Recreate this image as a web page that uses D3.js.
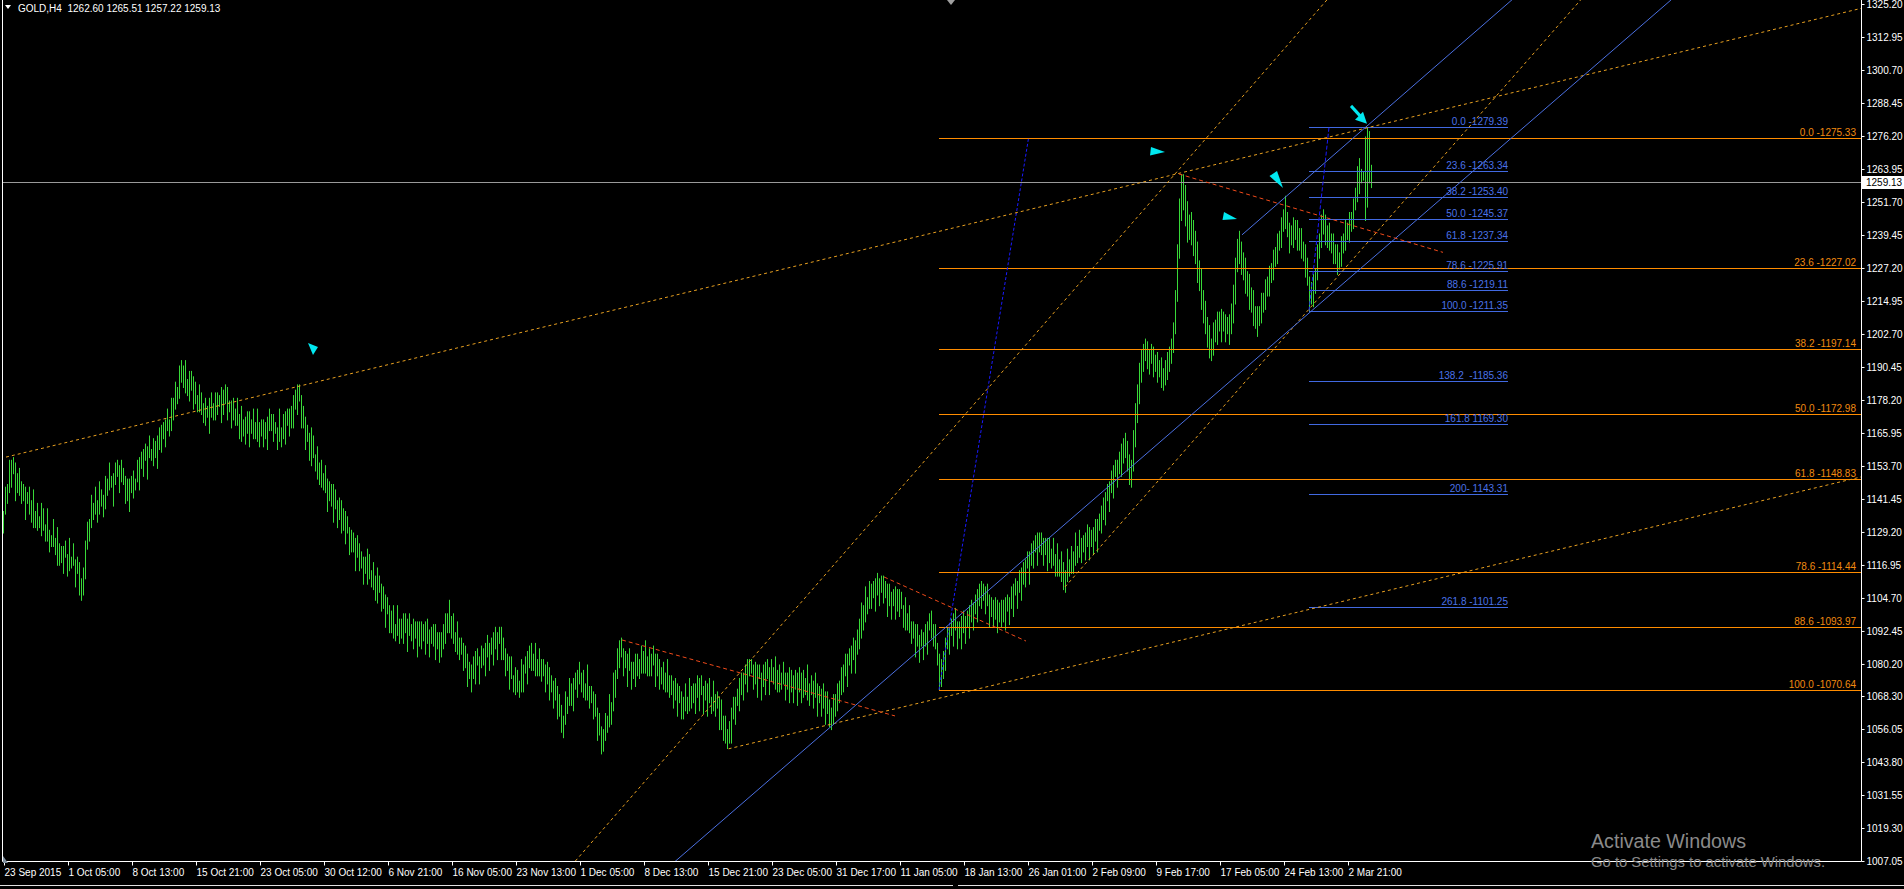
<!DOCTYPE html>
<html><head><meta charset="utf-8">
<script src="https://cdn.jsdelivr.net/npm/d3@7"></script>
<style>
html,body{margin:0;padding:0;background:#000;overflow:hidden}
svg{display:block}
text{font-family:"Liberation Sans",Arial,sans-serif;white-space:pre}
</style></head><body>
<svg id="c" width="1904" height="889"></svg>
<script>
// ---------------- DATA ----------------
const symbol = "GOLD,H4";
const lastOHLC = [1262.60, 1265.51, 1257.22, 1259.13];
const timeLabels = ["23 Sep 2015","1 Oct 05:00","8 Oct 13:00","15 Oct 21:00","23 Oct 05:00","30 Oct 12:00","6 Nov 21:00","16 Nov 05:00","23 Nov 13:00","1 Dec 05:00","8 Dec 13:00","15 Dec 21:00","23 Dec 05:00","31 Dec 17:00","11 Jan 05:00","18 Jan 13:00","26 Jan 01:00","2 Feb 09:00","9 Feb 17:00","17 Feb 05:00","24 Feb 13:00","2 Mar 21:00"];
const timeTickBars = [0,32,64,96,128,160,192,224,256,288,320,352,384,416,448,480,512,544,576,608,640,672];
const priceTicks = [1325.20,1312.95,1300.70,1288.45,1276.20,1263.95,1251.70,1239.45,1227.20,1214.95,1202.70,1190.45,1178.20,1165.95,1153.70,1141.45,1129.20,1116.95,1104.70,1092.45,1080.20,1068.30,1056.05,1043.80,1031.55,1019.30,1007.05];
// H4 bars: lows and highs (one entry per bar)
const barLows = [
1129,1136,1140,1144,1146,1151,1141,1144,1143,1140,
1141,1134,1140,1136,1133,1131,1131,1130,1131,1128,
1130,1126,1126,1122,1124,1124,1121,1117,1117,1118,
1114,1120,1113,1115,1116,1117,1109,1114,1106,1104,
1106,1112,1123,1126,1131,1134,1136,1133,1136,1139,
1135,1138,1143,1145,1146,1139,1147,1150,1144,1148,
1147,1140,1141,1137,1144,1142,1145,1148,1145,1153,
1150,1156,1149,1157,1156,1154,1157,1153,1160,1159,
1164,1161,1167,1165,1167,1171,1175,1177,1179,1185,
1183,1181,1180,1178,1182,1175,1177,1174,1174,1173,
1170,1169,1172,1166,1172,1171,1171,1173,1176,1170,
1173,1177,1171,1174,1168,1171,1169,1169,1164,1163,
1165,1162,1166,1161,1166,1164,1164,1163,1161,1165,
1161,1164,1160,1167,1167,1163,1166,1160,1163,1161,
1164,1162,1169,1165,1168,1168,1175,1173,1178,1168,
1168,1160,1163,1156,1154,1157,1152,1149,1147,1146,
1145,1144,1137,1141,1139,1133,1138,1131,1134,1129,
1130,1125,1129,1121,1122,1122,1115,1120,1115,1116,
1110,1114,1110,1112,1109,1108,1104,1103,1107,1100,
1101,1094,1099,1092,1092,1090,1089,1091,1088,1090,
1088,1092,1085,1091,1089,1086,1090,1083,1087,1086,
1089,1084,1088,1083,1088,1087,1082,1086,1081,1083,
1086,1088,1092,1092,1090,1088,1085,1084,1082,1084,
1078,1079,1072,1075,1070,1075,1073,1080,1073,1079,
1080,1076,1083,1078,1084,1080,1086,1082,1088,1082,
1082,1076,1078,1071,1075,1070,1069,1070,1068,1070,
1070,1077,1073,1079,1078,1078,1076,1076,1076,1074,
1076,1070,1073,1067,1070,1064,1067,1060,1061,1055,
1053,1058,1062,1065,1065,1063,1071,1068,1073,1070,
1068,1067,1067,1064,1066,1060,1061,1052,1054,1047,
1048,1052,1055,1057,1058,1063,1068,1075,1079,1083,
1076,1079,1072,1078,1071,1075,1072,1076,1075,1077,
1077,1077,1076,1076,1076,1080,1072,1076,1071,1073,
1071,1070,1070,1068,1069,1064,1067,1061,1066,1060,
1060,1063,1062,1063,1064,1066,1062,1068,1063,1069,
1062,1067,1061,1066,1062,1063,1061,1064,1056,1056,
1052,1051,1049,1051,1051,1060,1058,1065,1063,1069,
1067,1073,1070,1076,1077,1071,1073,1068,1075,1067,
1072,1069,1075,1069,1074,1073,1071,1070,1070,1071,
1073,1067,1071,1066,1070,1066,1071,1065,1070,1066,
1068,1069,1067,1065,1069,1064,1068,1061,1066,1061,
1064,1058,1062,1057,1056,1058,1061,1063,1066,1069,
1070,1076,1072,1080,1077,1082,1077,1084,1086,1090,
1093,1096,1099,1101,1101,1105,1100,1106,1102,1107,
1103,1105,1098,1102,1097,1102,1097,1100,1098,1101,
1094,1093,1093,1092,1088,1090,1083,1087,1081,1087,
1082,1087,1084,1093,1090,1087,1086,1080,1070.64,1072,
1075,1078,1086,1084,1091,1087,1093,1086,1090,1086,
1092,1088,1094,1090,1096,1093,1099,1096,1102,1101,
1104,1099,1102,1094,1098,1094,1097,1092,1096,1094,
1096,1093,1100,1095,1101,1098,1106,1101,1107,1104,
1110,1109,1116,1110,1117,1116,1122,1117,1122,1121,
1117,1121,1115,1118,1116,1117,1113,1113,1113,1111,
1108,1107,1111,1113,1114,1114,1117,1118,1120,1118,
1122,1119,1124,1119,1124,1121,1126,1122,1130,1129,
1134,1132,1141,1137,1144,1142,1150,1146,1151,1150,
1155,1157,1152,1147,1146,1152,1161,1170,1177,1185,
1189,1193,1190,1188,1192,1187,1189,1185,1187,1183,
1182,1184,1186,1189,1192,1196,1203,1215,1231,1245,
1249,1243,1237,1238,1236,1232,1229,1222,1219,1212,
1207,1203,1198,1194,1193,1195,1200,1199,1204,1200,
1204,1200,1203,1199,1203,1207,1214,1226,1229,1225,
1223,1218,1217,1212,1211,1206,1205,1202,1206,1207,
1211,1212,1217,1217,1222,1223,1228,1229,1234,1235,
1241,1242,1239,1233,1236,1235,1238,1234,1234,1231,
1230,1224,1221,1211.35,1214,1213,1218,1223,1231,1235,
1240,1236,1235,1234,1233,1229,1229,1225,1227,1228,
1233,1234,1238,1237,1241,1242,1249,1252,1255,1259,
1260,1245,1250,1259,1257.22];
const barHighs = [
1137,1146,1147,1156,1156,1157,1155,1151,1153,1148,
1147,1146,1144,1146,1141,1145,1137,1140,1135,1140,
1138,1132,1138,1130,1128,1134,1127,1131,1125,1124,
1124,1126,1121,1127,1120,1125,1119,1120,1118,1112,
1116,1126,1133,1134,1143,1140,1146,1141,1148,1145,
1143,1150,1149,1155,1150,1151,1155,1156,1154,1156,
1153,1150,1149,1149,1150,1152,1149,1156,1157,1159,
1160,1162,1161,1165,1160,1164,1163,1165,1168,1169,
1170,1171,1175,1171,1179,1179,1185,1183,1191,1193,
1191,1193,1186,1189,1189,1187,1185,1180,1184,1181,
1177,1179,1176,1179,1181,1177,1181,1181,1180,1183,
1182,1184,1183,1178,1178,1179,1175,1179,1173,1176,
1171,1172,1174,1174,1171,1175,1170,1175,1170,1171,
1171,1170,1172,1175,1173,1173,1170,1168,1175,1168,
1173,1174,1175,1175,1176,1180,1182,1184,1184,1180,
1176,1172,1169,1166,1168,1165,1158,1161,1155,1156,
1151,1154,1149,1148,1147,1147,1145,1141,1142,1141,
1138,1137,1135,1131,1130,1129,1127,1128,1125,1122,
1120,1120,1123,1121,1115,1118,1113,1116,1113,1110,
1109,1106,1105,1102,1100,1102,1095,1102,1097,1097,
1099,1099,1097,1099,1095,1097,1096,1096,1096,1096,
1095,1096,1097,1093,1094,1095,1095,1092,1092,1092,
1095,1099,1099,1104,1098,1099,1092,1096,1090,1090,
1088,1087,1084,1081,1080,1083,1085,1086,1083,1087,
1086,1088,1091,1088,1090,1092,1094,1092,1094,1094,
1090,1086,1084,1083,1083,1076,1079,1078,1074,1082,
1080,1083,1085,1087,1088,1084,1088,1082,1086,1082,
1082,1080,1081,1079,1076,1074,1075,1072,1069,1065,
1061,1070,1068,1075,1073,1075,1077,1078,1081,1077,
1078,1073,1080,1072,1072,1070,1069,1064,1062,1057,
1056,1062,1061,1069,1066,1077,1078,1086,1089,1090,
1086,1085,1084,1086,1081,1081,1084,1084,1082,1087,
1085,1089,1083,1086,1084,1087,1084,1084,1082,1079,
1081,1077,1082,1076,1076,1074,1075,1073,1072,1070,
1068,1073,1068,1075,1072,1073,1073,1076,1075,1076,
1072,1074,1073,1075,1068,1074,1069,1070,1068,1067,
1061,1061,1056,1059,1064,1068,1068,1071,1075,1077,
1077,1080,1082,1082,1082,1080,1081,1080,1080,1077,
1080,1081,1082,1079,1082,1079,1083,1078,1080,1077,
1081,1077,1077,1079,1078,1076,1078,1077,1079,1077,
1078,1075,1080,1073,1076,1074,1077,1073,1072,1071,
1073,1070,1070,1067,1064,1069,1069,1073,1074,1079,
1080,1084,1084,1086,1087,1090,1089,1093,1097,1103,
1102,1109,1105,1111,1110,1111,1112,1114,1112,1113,
1113,1111,1110,1110,1107,1108,1109,1108,1108,1107,
1102,1105,1099,1102,1096,1096,1095,1095,1091,1093,
1092,1095,1096,1099,1100,1095,1095,1088,1084,1082,
1085,1090,1094,1094,1097,1099,1101,1096,1096,1098,
1100,1098,1100,1102,1104,1103,1106,1108,1110,1111,
1110,1109,1110,1106,1105,1104,1105,1104,1103,1104,
1104,1105,1106,1105,1109,1110,1112,1111,1115,1116,
1118,1119,1122,1122,1125,1126,1128,1129,1129,1129,
1127,1127,1127,1127,1123,1127,1121,1125,1119,1122,
1118,1115,1123,1119,1124,1122,1129,1124,1130,1127,
1128,1129,1132,1131,1130,1131,1134,1134,1136,1139,
1142,1144,1147,1148,1152,1154,1156,1156,1159,1162,
1164,1166,1163,1158,1156,1167,1177,1184,1192,1197,
1199,1201,1200,1197,1199,1198,1195,1196,1193,1194,
1190,1193,1196,1198,1201,1207,1219,1236,1253,1262,
1262,1258,1252,1247,1248,1245,1241,1237,1230,1227,
1219,1215,1209,1206,1201,1207,1208,1211,1211,1212,
1211,1210,1209,1210,1214,1221,1231,1238,1241,1237,
1233,1231,1226,1225,1220,1219,1213,1213,1213,1218,
1218,1223,1224,1228,1229,1234,1235,1240,1241,1246,
1249,1254,1248,1244,1243,1246,1245,1245,1242,1242,
1237,1236,1231,1224,1222,1225,1227,1236,1240,1247,
1249,1247,1243,1244,1240,1240,1236,1236,1233,1239,
1240,1245,1244,1248,1248,1253,1257,1265,1268,1264,
1263,1276,1279.39,1278,1265.51];

const orangeFibPrices = [1275.33,1227.02,1197.14,1172.98,1148.83,1114.44,1093.97,1070.64];
const orangeFibLabels = ["0.0 -1275.33","23.6 -1227.02","38.2 -1197.14","50.0 -1172.98","61.8 -1148.83","78.6 -1114.44","88.6 -1093.97","100.0 -1070.64"];
const orangeFibAnchor = [468, 1070.64, 512.75, 1275.33];   // bar, price, bar, price
const blueFibPrices = [1279.39,1263.34,1253.40,1245.37,1237.34,1225.91,1219.11,1211.35,1185.36,1169.30,1143.31,1101.25];
const blueFibLabels = ["0.0 -1279.39","23.6 -1263.34","38.2 -1253.40","50.0 -1245.37","61.8 -1237.34","78.6 -1225.91","88.6 -1219.11","100.0 -1211.35","138.2  -1185.36","161.8 1169.30","200- 1143.31","261.8 -1101.25"];
const blueFibAnchor = [653, 1211.35, 663, 1279.39];
const blueFibEndBar = 752.5;

// trend lines: [bar1, price1, bar2, price2]
const orangeRays = [[1.5,1157.0,148.5,1183.4],[362.8,1048.7,926,1149.1],[531,1108.8,639.5,1200.5]];
const orangeLines = [[548.5,1230.2,617.5,1288.9]];
const blueLines = [[637.5,1200.5,708.5,1246.1]];
const blueRays = [[619.5,1239.5,697,1289.6]];
const redSegments = [[309.5,1089.1,446,1060.9],[440.5,1112.5,511.5,1088.7],[588,1262.1,720,1233.0]];
// arrow marks: bar, price, kind
const arrowBars = [155, 581, 617, 640, 682];
const arrowPrices = [1194.9, 1270.3, 1245.4, 1256.9, 1280.7];
const arrowKinds = ["flag","right","right2","downright","big"];

// ---------------- DRAW ----------------
const W = 1904, H = 889;
const plotL = 3, plotR = 1861, plotB = 861;
const svg = d3.select('#c');
const x = d3.scaleLinear().domain([0, 929]).range([3, 1861]);
const y = d3.scaleLinear().domain([1007.05, 1325.2]).range([861, 4]);

svg.append('rect').attr('width', W).attr('height', H).attr('fill', '#000');
svg.append('defs').append('clipPath').attr('id', 'plot')
  .append('rect').attr('x', plotL).attr('y', 0).attr('width', plotR - plotL).attr('height', plotB);
const g = svg.append('g').attr('clip-path', 'url(#plot)');

// bars
let bp = '';
barLows.forEach((lo, i) => {
  const xi = Math.round(x(i)) + 0.5;
  bp += `M${xi},${y(barHighs[i]).toFixed(1)}V${(y(lo) + 1).toFixed(1)}`;
});
g.append('path').attr('d', bp).attr('stroke', '#38d838').attr('stroke-width', 1).attr('fill', 'none');

// current price line
const yc = Math.round(y(lastOHLC[3])) + 0.5;
g.append('line').attr('x1', plotL).attr('x2', plotR).attr('y1', yc).attr('y2', yc)
  .attr('stroke', '#9a9a9a').attr('stroke-width', 1);

function ends(t, mode) {
  const x1 = x(t[0]), y1 = y(t[1]), x2 = x(t[2]), y2 = y(t[3]);
  if (mode === 'seg') return [x1, y1, x2, y2];
  const k = (y2 - y1) / (x2 - x1);
  const xe = plotR + 2000;
  if (mode === 'ray') return [x1, y1, xe, y1 + k * (xe - x1)];
  const xs = plotL - 2000;
  return [xs, y1 + k * (xs - x1), xe, y1 + k * (xe - x1)];
}
function drawLine(t, mode, color, dash, w) {
  const e = ends(t, mode);
  g.append('line').attr('x1', e[0]).attr('y1', e[1]).attr('x2', e[2]).attr('y2', e[3])
    .attr('stroke', color).attr('stroke-width', w || 1).attr('stroke-dasharray', dash || null)
    .attr('fill', 'none');
}

// orange fib levels
const ofx1 = Math.round(x(orangeFibAnchor[0]));
orangeFibPrices.forEach((p, k) => {
  const yy = Math.round(y(p)) + 0.5;
  g.append('line').attr('x1', ofx1).attr('x2', plotR).attr('y1', yy).attr('y2', yy)
    .attr('stroke', '#ff8c00').attr('stroke-width', 1);
  g.append('text').attr('x', 1856).attr('y', yy - 3).attr('text-anchor', 'end')
    .attr('fill', '#f08a10').attr('font-size', '10px').text(orangeFibLabels[k]);
});
drawLine(orangeFibAnchor, 'seg', '#1a1aff', '3,2', 1);

// blue fib levels
const bfx1 = Math.round(x(blueFibAnchor[0])), bfx2 = Math.round(x(blueFibEndBar));
blueFibPrices.forEach((p, k) => {
  const yy = Math.round(y(p)) + 0.5;
  g.append('line').attr('x1', bfx1).attr('x2', bfx2).attr('y1', yy).attr('y2', yy)
    .attr('stroke', '#4169e1').attr('stroke-width', 1);
  g.append('text').attr('x', bfx2).attr('y', yy - 3).attr('text-anchor', 'end')
    .attr('fill', '#4a72e8').attr('font-size', '10px').text(blueFibLabels[k]);
});
drawLine(blueFibAnchor, 'seg', '#1a1aff', '4,2', 1);

// trend lines
orangeRays.forEach(t => drawLine(t, 'ray', '#e8a020', '3,3', 1));
orangeLines.forEach(t => drawLine(t, 'line', '#e8a020', '3,3', 1));
blueLines.forEach(t => drawLine(t, 'line', '#4a6fe0', null, 1));
blueRays.forEach(t => drawLine(t, 'ray', '#4a6fe0', null, 1));
redSegments.forEach(t => drawLine(t, 'seg', '#f04a1a', '4,3', 1));

// arrow marks
const shapes = {
  flag: [[-5,-12],[5,-8],[0,0]],
  right: [[-14,-5],[0,0],[-15,3.5]],
  right2: [[-13,-7],[0,0],[-14.5,1]],
  downright: [[-13.5,-12],[-6,-17],[0,0]],
  big: [[0,0],[-12,-4],[-4,-12]]
};
arrowBars.forEach((b, k) => {
  const px = x(b), py = y(arrowPrices[k]);
  const kind = arrowKinds[k];
  const gg = g.append('g').attr('transform', `translate(${px},${py})`);
  if (kind === 'big') {
    gg.append('line').attr('x1', -16).attr('y1', -18).attr('x2', -6).attr('y2', -7)
      .attr('stroke', '#00e8f0').attr('stroke-width', 3);
  }
  gg.append('polygon').attr('points', shapes[kind].map(p => p.join(',')).join(' '))
    .attr('fill', '#00e8f0');
});

// frame
svg.append('line').attr('x1', 2.5).attr('x2', 2.5).attr('y1', 0).attr('y2', plotB + 0.5).attr('stroke', '#fff');
svg.append('line').attr('x1', plotR + 0.5).attr('x2', plotR + 0.5).attr('y1', 0).attr('y2', plotB + 0.5).attr('stroke', '#fff');
svg.append('line').attr('x1', 2.5).attr('x2', plotR + 0.5).attr('y1', plotB + 0.5).attr('y2', plotB + 0.5).attr('stroke', '#fff');

// price axis
const ya = svg.append('g').attr('transform', `translate(${plotR + 0.5},0)`)
  .call(d3.axisRight(y).tickValues(priceTicks).tickFormat(d => d.toFixed(2)).tickSize(3).tickSizeOuter(0).tickPadding(2));
ya.select('.domain').remove();
ya.selectAll('line').attr('stroke', '#fff');
ya.selectAll('text').attr('fill', '#fff').attr('font-size', '10px').attr('font-family', '"Liberation Sans",Arial,sans-serif');

// current price label
svg.append('rect').attr('x', plotR + 1).attr('y', yc - 6.5).attr('width', W - plotR - 1).attr('height', 13).attr('fill', '#fff');
svg.append('text').attr('x', plotR + 5).attr('y', yc + 3.5).attr('fill', '#000').attr('font-size', '10px').text(lastOHLC[3].toFixed(2));

// time axis
const xa = svg.append('g').attr('transform', `translate(0,${plotB + 0.5})`)
  .call(d3.axisBottom(x).tickValues(timeTickBars).tickFormat((d, i) => timeLabels[i]).tickSize(4).tickSizeOuter(0));
xa.select('.domain').remove();
xa.selectAll('.tick line').attr('stroke', '#fff').attr('transform', 'translate(1,0)');
xa.selectAll('.tick text').attr('fill', '#fff').attr('font-size', '10px').attr('text-anchor', 'start')
  .attr('dx', 1).attr('y', 7).attr('dy', '0.71em').attr('font-family', '"Liberation Sans",Arial,sans-serif');

// header
svg.append('polygon').attr('points', '5,5 11,5 8,9').attr('fill', '#fff');
svg.append('text').attr('x', 18).attr('y', 11.5).attr('fill', '#fff').attr('font-size', '10px')
  .text(symbol + '  ' + lastOHLC.map(v => v.toFixed(2)).join(' '));

// small markers
svg.append('polygon').attr('points', '947,0 955,0 951,5').attr('fill', '#a0a0a0');
svg.append('polygon').attr('points', '3,856 3,863 8,863').attr('fill', '#8090a0');

// bottom window border
svg.append('line').attr('x1', 0).attr('x2', 953).attr('y1', 885.5).attr('y2', 885.5).attr('stroke', '#e0e0e0');
svg.append('line').attr('x1', 958).attr('x2', W).attr('y1', 885.5).attr('y2', 885.5).attr('stroke', '#e0e0e0');

// watermark
svg.append('text').attr('x', 1591).attr('y', 848).attr('fill', '#8a8a8a').attr('font-size', '20px')
  .attr('font-family', '"Open Sans",sans-serif').attr('textLength', 155).attr('lengthAdjust', 'spacingAndGlyphs').text('Activate Windows');
svg.append('text').attr('x', 1591).attr('y', 867).attr('fill', '#8a8a8a').attr('font-size', '15px')
  .attr('font-family', '"Open Sans",sans-serif').attr('textLength', 234).attr('lengthAdjust', 'spacingAndGlyphs').text('Go to Settings to activate Windows.');
</script>
</body></html>
